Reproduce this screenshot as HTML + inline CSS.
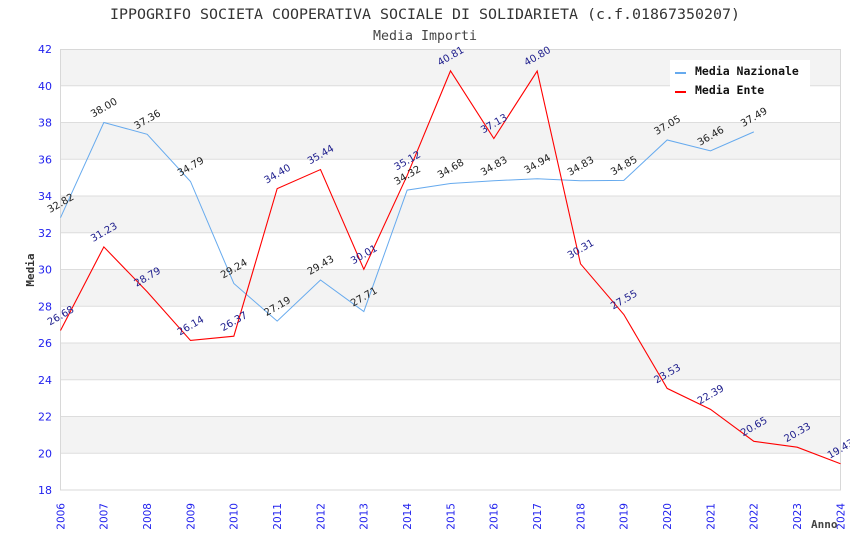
<!DOCTYPE html>
<html><head><meta charset="utf-8"><style>
html,body{margin:0;padding:0;background:#fff;}
svg{display:block;}
.t{font-family:"DejaVu Sans Mono","Liberation Mono",monospace;}
.yl{font-family:"DejaVu Sans","Liberation Sans",sans-serif;font-size:11px;fill:#2222ee;}
.xl{font-family:"DejaVu Sans","Liberation Sans",sans-serif;font-size:10.5px;fill:#2222ee;}
.ln{font-family:"DejaVu Sans","Liberation Sans",sans-serif;font-size:10px;fill:#222;}
.le{font-family:"DejaVu Sans","Liberation Sans",sans-serif;font-size:10px;fill:#1c1c8c;}
</style></head><body>
<svg width="850" height="550" viewBox="0 0 850 550" xmlns="http://www.w3.org/2000/svg">
<rect width="850" height="550" fill="#fff"/>
<text class="t" x="425" y="19" text-anchor="middle" font-size="14.5" fill="#333" textLength="630" lengthAdjust="spacingAndGlyphs">IPPOGRIFO SOCIETA COOPERATIVA SOCIALE DI SOLIDARIETA (c.f.01867350207)</text>
<text class="t" x="425" y="40" text-anchor="middle" font-size="13" fill="#444" textLength="104" lengthAdjust="spacingAndGlyphs">Media Importi</text>
<!-- bands -->
<g fill="#f3f3f3">
<rect x="60.5" y="49" width="780" height="36.75"/>
<rect x="60.5" y="122.5" width="780" height="36.75"/>
<rect x="60.5" y="196" width="780" height="36.75"/>
<rect x="60.5" y="269.5" width="780" height="36.75"/>
<rect x="60.5" y="343" width="780" height="36.75"/>
<rect x="60.5" y="416.5" width="780" height="36.75"/>
</g>
<g stroke="#dddddd" stroke-width="1">
<line x1="60.5" x2="840.5" y1="85.75" y2="85.75"/>
<line x1="60.5" x2="840.5" y1="122.5" y2="122.5"/>
<line x1="60.5" x2="840.5" y1="159.25" y2="159.25"/>
<line x1="60.5" x2="840.5" y1="196" y2="196"/>
<line x1="60.5" x2="840.5" y1="232.75" y2="232.75"/>
<line x1="60.5" x2="840.5" y1="269.5" y2="269.5"/>
<line x1="60.5" x2="840.5" y1="306.25" y2="306.25"/>
<line x1="60.5" x2="840.5" y1="343" y2="343"/>
<line x1="60.5" x2="840.5" y1="379.75" y2="379.75"/>
<line x1="60.5" x2="840.5" y1="416.5" y2="416.5"/>
<line x1="60.5" x2="840.5" y1="453.25" y2="453.25"/>
</g>
<rect x="60.5" y="49.5" width="780" height="440.5" fill="none" stroke="#d8d8d8" stroke-width="1"/>
<!-- y labels -->
<g class="yl" text-anchor="end">
<text x="52" y="53">42</text>
<text x="52" y="89.75">40</text>
<text x="52" y="126.5">38</text>
<text x="52" y="163.25">36</text>
<text x="52" y="200">34</text>
<text x="52" y="236.75">32</text>
<text x="52" y="273.5">30</text>
<text x="52" y="310.25">28</text>
<text x="52" y="347">26</text>
<text x="52" y="383.75">24</text>
<text x="52" y="420.5">22</text>
<text x="52" y="457.25">20</text>
<text x="52" y="494">18</text>
</g>
<!-- x labels -->
<g class="xl" text-anchor="end">
<text transform="translate(64.3,503) rotate(-90)">2006</text>
<text transform="translate(107.6,503) rotate(-90)">2007</text>
<text transform="translate(151,503) rotate(-90)">2008</text>
<text transform="translate(194.3,503) rotate(-90)">2009</text>
<text transform="translate(237.6,503) rotate(-90)">2010</text>
<text transform="translate(281,503) rotate(-90)">2011</text>
<text transform="translate(324.3,503) rotate(-90)">2012</text>
<text transform="translate(367.6,503) rotate(-90)">2013</text>
<text transform="translate(411,503) rotate(-90)">2014</text>
<text transform="translate(454.3,503) rotate(-90)">2015</text>
<text transform="translate(497.6,503) rotate(-90)">2016</text>
<text transform="translate(541,503) rotate(-90)">2017</text>
<text transform="translate(584.3,503) rotate(-90)">2018</text>
<text transform="translate(627.6,503) rotate(-90)">2019</text>
<text transform="translate(671,503) rotate(-90)">2020</text>
<text transform="translate(714.3,503) rotate(-90)">2021</text>
<text transform="translate(757.6,503) rotate(-90)">2022</text>
<text transform="translate(801,503) rotate(-90)">2023</text>
<text transform="translate(844.3,503) rotate(-90)">2024</text>
</g>
<text class="t" transform="translate(34,270) rotate(-90)" text-anchor="middle" font-size="11" font-weight="bold" fill="#333">Media</text>
<text class="t" x="811" y="528" font-size="11" font-weight="bold" fill="#444">Anno</text>
<!-- series -->
<polyline fill="none" stroke="#66aaee" stroke-width="1" points="60.5,217.68 103.83,122.5 147.17,134.26 190.5,181.48 233.83,283.47 277.17,321.13 320.5,279.97 363.83,311.58 407.17,190.12 450.5,183.51 493.83,180.75 537.17,178.73 580.5,180.75 623.83,180.38 667.17,139.96 710.5,150.8 753.83,131.87"/>
<polyline fill="none" stroke="#ff0000" stroke-width="1.1" points="60.5,330.5 103.83,246.9 147.17,291.73 190.5,340.43 233.83,336.2 277.17,188.65 320.5,169.54 363.83,269.32 407.17,175.42 450.5,70.87 493.83,138.49 537.17,71.05 580.5,263.8 623.83,314.52 667.17,388.39 710.5,409.33 753.83,441.31 797.17,447.19 840.5,463.72"/>
<!-- labels nazionale -->
<g class="ln" text-anchor="middle">
<text transform="translate(60.5,203) rotate(-30)" dy="0.35em">32.82</text>
<text transform="translate(103.8,107.5) rotate(-30)" dy="0.35em">38.00</text>
<text transform="translate(147.2,119.3) rotate(-30)" dy="0.35em">37.36</text>
<text transform="translate(190.5,166.5) rotate(-30)" dy="0.35em">34.79</text>
<text transform="translate(233.8,268.5) rotate(-30)" dy="0.35em">29.24</text>
<text transform="translate(277.2,306.1) rotate(-30)" dy="0.35em">27.19</text>
<text transform="translate(320.5,265) rotate(-30)" dy="0.35em">29.43</text>
<text transform="translate(363.8,296.6) rotate(-30)" dy="0.35em">27.71</text>
<text transform="translate(407.2,175.1) rotate(-30)" dy="0.35em">34.32</text>
<text transform="translate(450.5,168.5) rotate(-30)" dy="0.35em">34.68</text>
<text transform="translate(493.8,165.8) rotate(-30)" dy="0.35em">34.83</text>
<text transform="translate(537.2,163.7) rotate(-30)" dy="0.35em">34.94</text>
<text transform="translate(580.5,165.8) rotate(-30)" dy="0.35em">34.83</text>
<text transform="translate(623.8,165.4) rotate(-30)" dy="0.35em">34.85</text>
<text transform="translate(667.2,125) rotate(-30)" dy="0.35em">37.05</text>
<text transform="translate(710.5,135.8) rotate(-30)" dy="0.35em">36.46</text>
<text transform="translate(753.8,116.9) rotate(-30)" dy="0.35em">37.49</text>
</g>
<!-- labels ente -->
<g class="le" text-anchor="middle">
<text transform="translate(60.5,315.5) rotate(-30)" dy="0.35em">26.68</text>
<text transform="translate(103.8,231.9) rotate(-30)" dy="0.35em">31.23</text>
<text transform="translate(147.2,276.7) rotate(-30)" dy="0.35em">28.79</text>
<text transform="translate(190.5,325.4) rotate(-30)" dy="0.35em">26.14</text>
<text transform="translate(233.8,321.2) rotate(-30)" dy="0.35em">26.37</text>
<text transform="translate(277.2,173.7) rotate(-30)" dy="0.35em">34.40</text>
<text transform="translate(320.5,154.5) rotate(-30)" dy="0.35em">35.44</text>
<text transform="translate(363.8,254.3) rotate(-30)" dy="0.35em">30.01</text>
<text transform="translate(407.2,160.4) rotate(-30)" dy="0.35em">35.12</text>
<text transform="translate(450.5,55.9) rotate(-30)" dy="0.35em">40.81</text>
<text transform="translate(493.8,123.5) rotate(-30)" dy="0.35em">37.13</text>
<text transform="translate(537.2,56) rotate(-30)" dy="0.35em">40.80</text>
<text transform="translate(580.5,248.8) rotate(-30)" dy="0.35em">30.31</text>
<text transform="translate(623.8,299.5) rotate(-30)" dy="0.35em">27.55</text>
<text transform="translate(667.2,373.4) rotate(-30)" dy="0.35em">23.53</text>
<text transform="translate(710.5,394.3) rotate(-30)" dy="0.35em">22.39</text>
<text transform="translate(753.8,426.3) rotate(-30)" dy="0.35em">20.65</text>
<text transform="translate(797.2,432.2) rotate(-30)" dy="0.35em">20.33</text>
<text transform="translate(840.5,448.7) rotate(-30)" dy="0.35em">19.43</text>
</g>
<!-- legend -->
<rect x="670" y="60" width="140" height="40" fill="#fff"/>
<line x1="675" x2="686" y1="73" y2="73" stroke="#66aaee" stroke-width="2"/>
<line x1="675" x2="686" y1="92" y2="92" stroke="#ff0000" stroke-width="2"/>
<text class="t" x="695" y="75" font-size="11.5" font-weight="bold" fill="#111">Media Nazionale</text>
<text class="t" x="695" y="94" font-size="11.5" font-weight="bold" fill="#111">Media Ente</text>
</svg>
</body></html>
